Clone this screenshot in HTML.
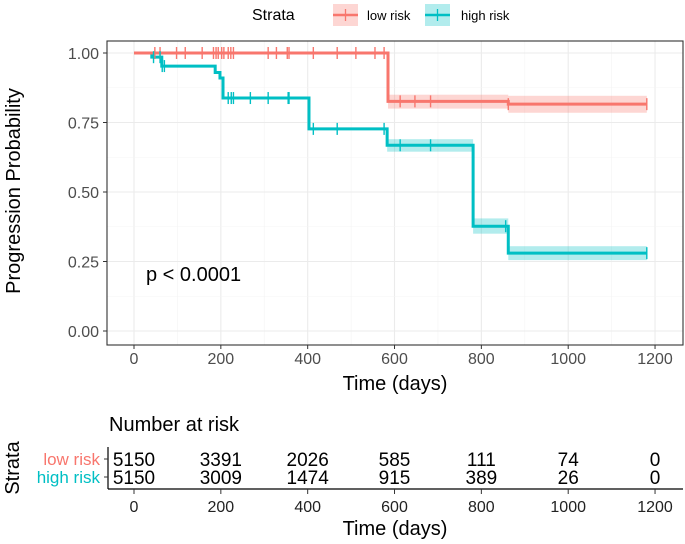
<!DOCTYPE html>
<html><head><meta charset="utf-8"><style>
body{margin:0;background:#fff;}
svg{display:block;font-family:"Liberation Sans",Arial,sans-serif;}
</style></head><body>
<svg id="chart" width="685" height="544"></svg>
<script>
const lowSteps=[[0,1.0],[585,0.826],[862,0.816],[1181,0.816]];
const highSteps=[[0,1.0],[41,0.985],[64,0.953],[187,0.93],[198,0.91],[205,0.838],[403,0.727],[583,0.668],[781,0.377],[862,0.28],[1181,0.28]];
const lowBand=[[585,0.80,0.85],[862,0.785,0.846],[1181,0.785,0.846]];
const highBand=[[583,0.645,0.69],[781,0.35,0.405],[862,0.255,0.305],[1181,0.255,0.305]];
const lowCensor=[48,60,98,118,157,183,189,194,202,207,217,223,229,309,328,353,357,413,468,511,555,576,613,647,683,862,1181];
const highCensor=[45,60,65,70,217,224,229,268,309,355,357,413,468,576,613,683,856,1181];
const xTicks=[0,200,400,600,800,1000,1200];
const yTicks=[0,0.25,0.5,0.75,1.0];
const lowRisk=[5150,3391,2026,585,111,74,0];
const highRisk=[5150,3009,1474,915,389,26,0];
const RED="#F8766D",TEAL="#00BFC4";
const svg=document.getElementById('chart');const NS="http://www.w3.org/2000/svg";
const X=d=>134+d*0.4342, Y=v=>331-v*278;
function el(t,a,p){const e=document.createElementNS(NS,t);for(const k in a)e.setAttribute(k,a[k]);(p||svg).appendChild(e);return e;}
function txt(s,a){const e=el('text',a);e.textContent=s;return e;}
for(let i=0;i<xTicks.length;i++){el('line',{x1:X(xTicks[i]),x2:X(xTicks[i]),y1:41,y2:345,stroke:'#ebebeb','stroke-width':1.1});
 if(i<xTicks.length-1){const m=X((xTicks[i]+xTicks[i+1])/2);el('line',{x1:m,x2:m,y1:41,y2:345,stroke:'#f4f4f4','stroke-width':0.6});}}
for(let i=0;i<yTicks.length;i++){el('line',{x1:107,x2:683,y1:Y(yTicks[i]),y2:Y(yTicks[i]),stroke:'#ebebeb','stroke-width':1.1});
 if(i<yTicks.length-1){const m=Y((yTicks[i]+yTicks[i+1])/2);el('line',{x1:107,x2:683,y1:m,y2:m,stroke:'#f4f4f4','stroke-width':0.6});}}
function band(b,col,name){for(let i=0;i<b.length-1;i++){const r=el('rect',{x:X(b[i][0]),y:Y(b[i][2]),width:X(b[i+1][0])-X(b[i][0]),height:Y(b[i][1])-Y(b[i][2]),fill:col,opacity:0.3});
}}
band(lowBand,RED,'low-risk-ci');band(highBand,TEAL,'high-risk-ci');
function step(s,col,name){let d='M'+X(s[0][0])+' '+Y(s[0][1]);for(let i=1;i<s.length;i++){d+=' H'+X(s[i][0])+' V'+Y(s[i][1]);}
const p=el('path',{d:d,fill:'none',stroke:col,'stroke-width':3});}
function valAt(s,t){let v=s[0][1];for(const p of s){if(p[0]<=t)v=p[1];}return v;}
step(highSteps,TEAL,'high-risk-curve');step(lowSteps,RED,'low-risk-curve');
function cens(c,s,col,name){for(const t of c){const l=el('line',{x1:X(t),x2:X(t),y1:Y(valAt(s,t))-6,y2:Y(valAt(s,t))+6,stroke:col,'stroke-width':1.4});
}}
cens(lowCensor,lowSteps,RED,'low-risk-censor');cens(highCensor,highSteps,TEAL,'high-risk-censor');
el('rect',{x:107,y:41,width:576,height:304,fill:'none',stroke:'#333','stroke-width':1.1});
for(const t of xTicks){el('line',{x1:X(t),x2:X(t),y1:345,y2:349,stroke:'#333'});
 const e=txt(t,{x:X(t),y:364,'font-size':16,'text-anchor':'middle',fill:'#4d4d4d'});}
for(const t of yTicks){el('line',{x1:103,x2:107,y1:Y(t),y2:Y(t),stroke:'#333'});
 const e=txt(t.toFixed(2),{x:99,y:Y(t)+6,'font-size':16,'text-anchor':'end',fill:'#4d4d4d'});}
txt('Time (days)',{x:395,y:390,'font-size':20,'text-anchor':'middle',});
txt('Progression Probability',{x:0,y:0,'font-size':20,'text-anchor':'middle',transform:'translate(20,191) rotate(-90)',});
txt('p < 0.0001',{x:146,y:281,'font-size':20,});
txt('Strata',{x:252,y:20,'font-size':16,});
function leg(x,col,label,tx,name){const g=el('g',{});
el('rect',{x:x,y:4,width:25,height:22,fill:col,opacity:0.3},g);el('line',{x1:x,x2:x+25,y1:15,y2:15,stroke:col,'stroke-width':2.6},g);
el('line',{x1:x+12.5,x2:x+12.5,y1:9,y2:21,stroke:col,'stroke-width':1.3},g);const t=el('text',{x:tx,y:20,'font-size':13},g);t.textContent=label;}
leg(333,RED,'low risk',367,'legend-entry-low-risk');leg(425,TEAL,'high risk',461,'legend-entry-high-risk');
txt('Number at risk',{x:109,y:431,'font-size':20,});
el('line',{x1:108,x2:108,y1:447,y2:489,stroke:'#000','stroke-width':1.2});
el('line',{x1:108,x2:683,y1:489,y2:489,stroke:'#000','stroke-width':1.2});
el('line',{x1:104,x2:108,y1:459,y2:459,stroke:'#333'});el('line',{x1:104,x2:108,y1:477,y2:477,stroke:'#333'});
for(let i=0;i<xTicks.length;i++){const x=X(xTicks[i]);
 el('line',{x1:x,x2:x,y1:489,y2:494,stroke:'#333'});
 const a=txt(lowRisk[i],{x:x,y:466,'font-size':19,'text-anchor':'middle'});
 const b=txt(highRisk[i],{x:x,y:484,'font-size':19,'text-anchor':'middle'});
 const c=txt(xTicks[i],{x:x,y:512,'font-size':16,'text-anchor':'middle',fill:'#222'});}
txt('low risk',{x:100,y:465,'font-size':17,'text-anchor':'end',fill:RED,});
txt('high risk',{x:100,y:483,'font-size':17,'text-anchor':'end',fill:TEAL,});
txt('Strata',{x:0,y:0,'font-size':20,'text-anchor':'middle',transform:'translate(19,468) rotate(-90)',});
txt('Time (days)',{x:395,y:535,'font-size':20,'text-anchor':'middle',});
</script>
</body></html>
